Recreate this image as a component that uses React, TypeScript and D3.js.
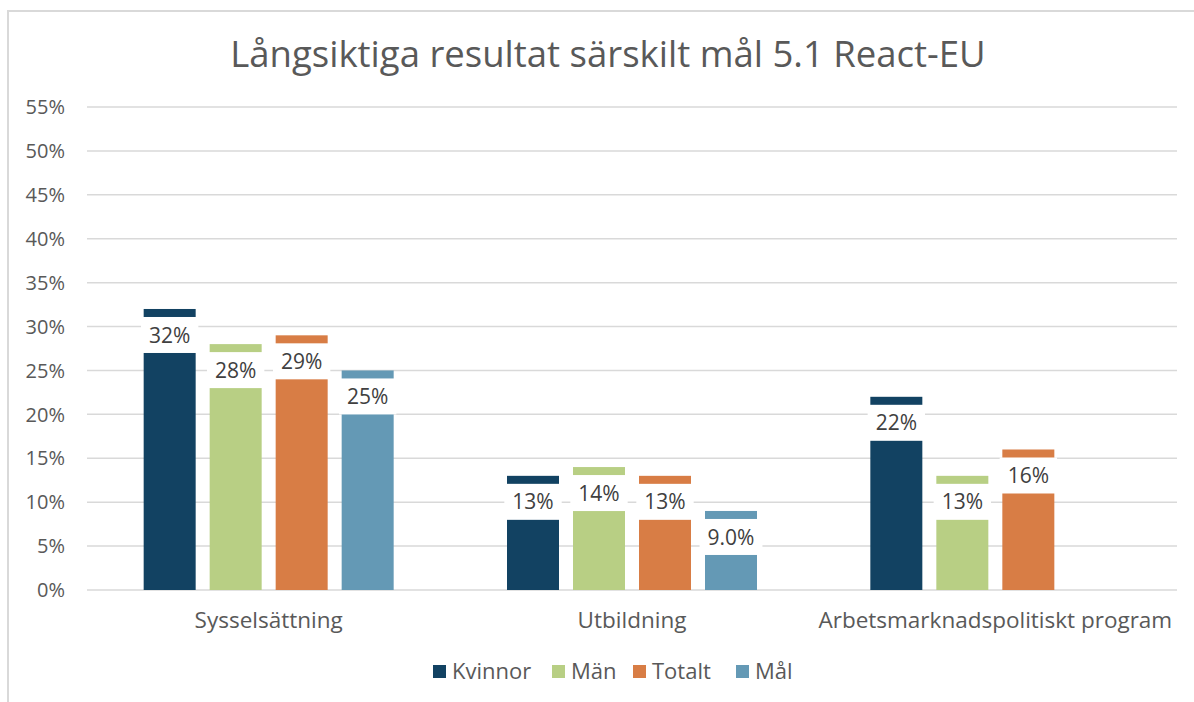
import React, { useEffect, useRef } from 'react'
import * as d3 from 'd3'

const categories = ['Sysselsättning', 'Utbildning', 'Arbetsmarknadspolitiskt program']
const seriesNames = ['Kvinnor', 'Män', 'Totalt', 'Mål']
const kvinnor = [32, 13, 22]
const man = [28, 14, 13]
const totalt = [29, 13, 16]
const mal = [25, 9.0, null]
const yTicks = [0, 5, 10, 15, 20, 25, 30, 35, 40, 45, 50, 55]
const colors = ['#124262', '#b8cf84', '#d87d45', '#6499b5']

const FONT = '"Open Sans", sans-serif'

export default function App() {
  const ref = useRef<SVGSVGElement>(null)

  useEffect(() => {
    const svg = d3.select(ref.current)
    svg.selectAll('*').remove()

    const left = 87
    const right = 1177
    const top = 107
    const bottom = 590

    // chart frame
    svg.append('rect')
      .attr('x', 8).attr('y', 11)
      .attr('width', 1200).attr('height', 720)
      .attr('fill', '#fff')
      .attr('stroke', '#d9d9d9')
      .attr('stroke-width', 2)

    svg.append('text')
      .attr('x', 608).attr('y', 67)
      .attr('text-anchor', 'middle')
      .attr('font-family', FONT)
      .attr('font-size', 36.5)
      .attr('fill', '#595959')
      .text('Långsiktiga resultat särskilt mål 5.1 React-EU')

    const y = d3.scaleLinear().domain([0, 55]).range([bottom, top])
    const x0 = d3.scaleBand().domain(categories).range([left, right]).padding(0)
    const x1 = d3.scaleBand().domain(seriesNames).range([-125, 125]).paddingInner(14 / 66).paddingOuter(0)

    // gridlines
    svg.append('g')
      .selectAll('line')
      .data(yTicks)
      .enter().append('line')
        .attr('x1', left).attr('x2', right)
        .attr('y1', d => y(d)).attr('y2', d => y(d))
        .attr('stroke', '#d9d9d9')
        .attr('stroke-width', 1.5)

    svg.append('g')
      .selectAll('text')
      .data(yTicks)
      .enter().append('text')
        .attr('x', 65)
        .attr('y', d => y(d))
        .attr('dy', '0.36em')
        .attr('text-anchor', 'end')
        .attr('font-family', FONT)
        .attr('font-size', 20)
        .attr('fill', '#595959')
        .text(d => d + '%')

    const seriesData = [kvinnor, man, totalt, mal]
    const rows: { cat: string; key: string; value: number; color: string }[] = []
    categories.forEach((c, ci) => {
      seriesNames.forEach((s, si) => {
        const v = seriesData[si][ci]
        if (v == null) return
        rows.push({ cat: c, key: s, value: v, color: colors[si] })
      })
    })

    const groups = svg.append('g')
      .selectAll('g')
      .data(rows)
      .enter().append('g')
        .attr('transform', d => 'translate(' + (x0(d.cat)! + x0.bandwidth() / 2 + x1(d.key)!) + ',0)')

    groups.append('rect')
      .attr('x', 0)
      .attr('y', d => y(d.value))
      .attr('width', x1.bandwidth())
      .attr('height', d => bottom - y(d.value))
      .attr('fill', d => d.color)

    const fmt = (v: number) => (v < 10 ? d3.format('.1f')(v) : d3.format('.0f')(v)) + '%'

    const boxes = groups.append('rect')
      .attr('fill', '#fff')
      .attr('y', d => y(d.value) + 8)
      .attr('height', 36)

    const labels = groups.append('text')
      .attr('x', x1.bandwidth() / 2)
      .attr('y', d => y(d.value) + 26)
      .attr('dy', '0.36em')
      .attr('text-anchor', 'middle')
      .attr('font-family', FONT)
      .attr('font-size', 21)
      .attr('fill', '#404040')
      .text(d => fmt(d.value))

    labels.each(function (this: SVGTextElement, _d, i) {
      const w = this.getComputedTextLength() + 16
      d3.select(boxes.nodes()[i])
        .attr('x', x1.bandwidth() / 2 - w / 2)
        .attr('width', w)
    })

    // category labels
    svg.append('g')
      .selectAll('text')
      .data(categories)
      .enter().append('text')
        .attr('x', d => x0(d)! + x0.bandwidth() / 2)
        .attr('y', 628)
        .attr('text-anchor', 'middle')
        .attr('font-family', FONT)
        .attr('font-size', 22.5)
        .attr('fill', '#595959')
        .text(d => d)

    // legend
    const legendX = [433, 552, 633, 736]
    const legend = svg.append('g')
      .selectAll('g')
      .data(seriesNames)
      .enter().append('g')
        .attr('transform', (d, i) => 'translate(' + legendX[i] + ',665)')
    legend.append('rect')
      .attr('width', 13).attr('height', 13)
      .attr('fill', (d, i) => colors[i])
    legend.append('text')
      .attr('x', 19).attr('y', 14)
      .attr('font-family', FONT)
      .attr('font-size', 22)
      .attr('fill', '#595959')
      .text(d => d)
  }, [])

  return (
    <div style={{ position: 'absolute', left: 0, top: 0 }}>
      <svg ref={ref} width={1194} height={702} style={{ display: 'block' }}></svg>
    </div>
  )
}
